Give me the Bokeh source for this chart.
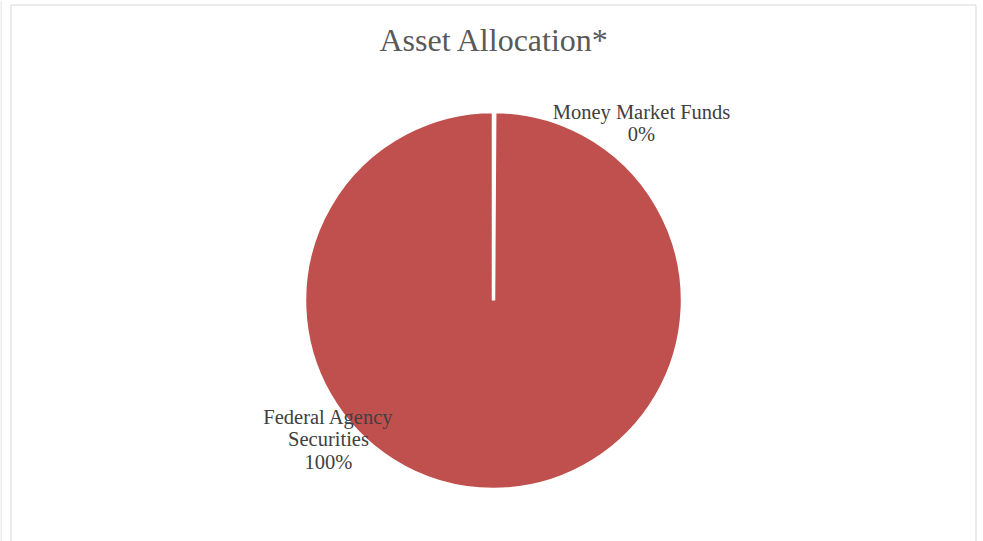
from math import pi
from bokeh.plotting import figure
from bokeh.models import Range1d, ColumnDataSource
from bokeh.core.properties import value
from bokeh.embed import file_html
from bokeh.resources import INLINE

# ---- data ----
title_text = "Asset Allocation*"
categories = ["Money Market Funds", "Federal Agency Securities"]
label_lines = [["Money Market Funds"], ["Federal Agency", "Securities"]]
values = [0.1, 99.9]
colors = ["#4F81BD", "#C0504D"]

# ---- layout (screen-pixel based; data y = 541 - screen y) ----
W, H = 977, 541
p = figure(width=W, height=H, output_backend="svg", toolbar_location=None, tools="",
           x_range=Range1d(0, W), y_range=Range1d(0, H),
           min_border_left=0, min_border_right=0, min_border_top=0, min_border_bottom=0)
p.axis.visible = False
p.grid.visible = False
p.outline_line_color = None
p.background_fill_color = "white"
p.border_fill_color = "white"

def sy(y):
    return H - y

# chart border (left, top, right) and page edge line
p.segment(x0=[10.5, 10.5, 975.5, 0.5], y0=[sy(4.5), sy(4.5), sy(4.5), sy(0)],
          x1=[10.5, 975.5, 975.5, 0.5], y1=[sy(H), sy(4.5), sy(H), sy(H)],
          line_color="#D9D9D9", line_width=1)

cx, cy, r = 493, sy(300), 189
total = sum(values)
starts, ends = [], []
cum = 0.0
for v in values:
    starts.append(pi / 2 - 2 * pi * cum / total)
    cum += v
    ends.append(pi / 2 - 2 * pi * cum / total)

src = ColumnDataSource(dict(start=starts, end=ends, color=colors, cat=categories))
p.wedge(x=cx, y=cy, radius=r, start_angle="start", end_angle="end", direction="clock",
        fill_color="color", line_color="white", line_width=3.5, source=src)

# title
p.text(x=[494], y=[sy(39)], text=[title_text], text_font=value("Liberation Serif"),
       text_font_size="32px", text_color="#595959", text_align="center", text_baseline="middle")

# data labels
label_pos = [(641, 111), (328, 416)]
line_h = 22.5
for lines, v, (lx, ly) in zip(label_lines, values, label_pos):
    pct = f"{round(v / total * 100)}%"
    all_lines = lines + [pct]
    xs = [lx] * len(all_lines)
    ys = [sy(ly + i * line_h) for i in range(len(all_lines))]
    p.text(x=xs, y=ys, text=all_lines, text_font=value("Liberation Serif"),
           text_font_size="20.5px", text_color="#404040", text_align="center", text_baseline="middle")

open("out.html", "w").write(file_html(p, INLINE))
